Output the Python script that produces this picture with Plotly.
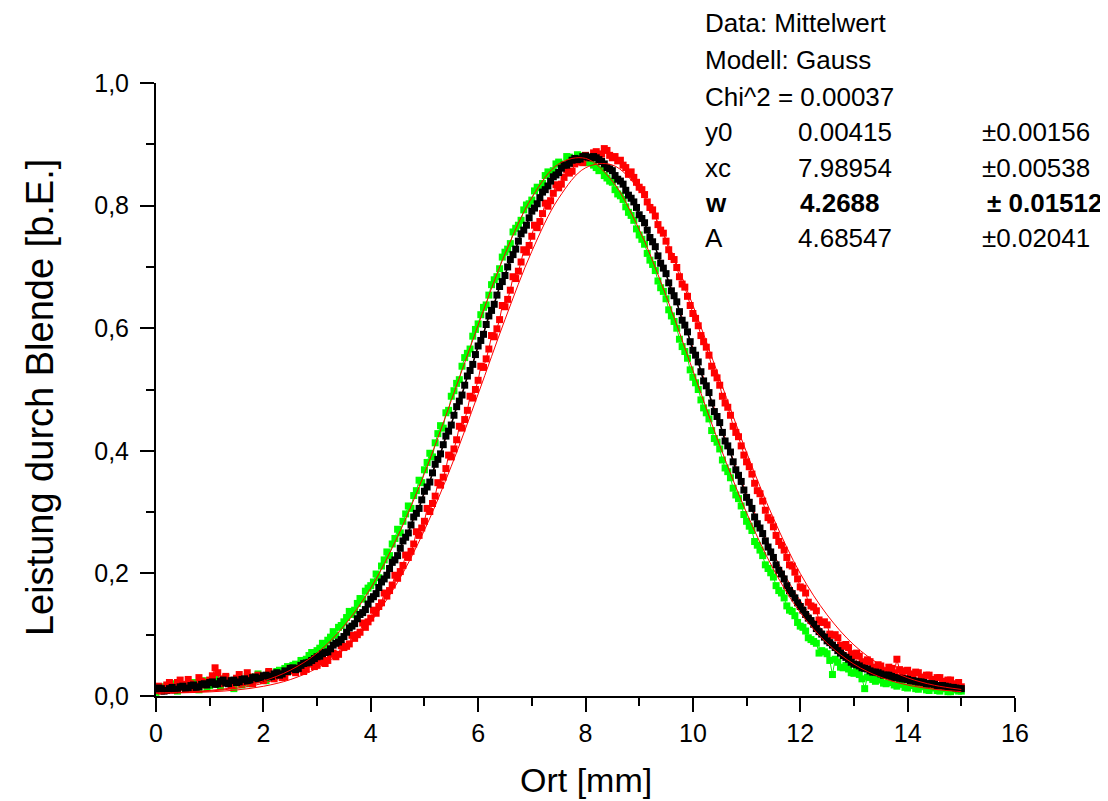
import plotly.graph_objects as go

# ---------------- data (every 0.05 mm) ----------------
x_pos = [
    0.00, 0.05, 0.10, 0.15, 0.20, 0.25, 0.30, 0.35, 0.40, 0.45, 0.50, 0.55, 0.60, 0.65, 0.70, 0.75, 0.80, 0.85, 0.90, 0.95,
    1.00, 1.05, 1.10, 1.15, 1.20, 1.25, 1.30, 1.35, 1.40, 1.45, 1.50, 1.55, 1.60, 1.65, 1.70, 1.75, 1.80, 1.85, 1.90, 1.95,
    2.00, 2.05, 2.10, 2.15, 2.20, 2.25, 2.30, 2.35, 2.40, 2.45, 2.50, 2.55, 2.60, 2.65, 2.70, 2.75, 2.80, 2.85, 2.90, 2.95,
    3.00, 3.05, 3.10, 3.15, 3.20, 3.25, 3.30, 3.35, 3.40, 3.45, 3.50, 3.55, 3.60, 3.65, 3.70, 3.75, 3.80, 3.85, 3.90, 3.95,
    4.00, 4.05, 4.10, 4.15, 4.20, 4.25, 4.30, 4.35, 4.40, 4.45, 4.50, 4.55, 4.60, 4.65, 4.70, 4.75, 4.80, 4.85, 4.90, 4.95,
    5.00, 5.05, 5.10, 5.15, 5.20, 5.25, 5.30, 5.35, 5.40, 5.45, 5.50, 5.55, 5.60, 5.65, 5.70, 5.75, 5.80, 5.85, 5.90, 5.95,
    6.00, 6.05, 6.10, 6.15, 6.20, 6.25, 6.30, 6.35, 6.40, 6.45, 6.50, 6.55, 6.60, 6.65, 6.70, 6.75, 6.80, 6.85, 6.90, 6.95,
    7.00, 7.05, 7.10, 7.15, 7.20, 7.25, 7.30, 7.35, 7.40, 7.45, 7.50, 7.55, 7.60, 7.65, 7.70, 7.75, 7.80, 7.85, 7.90, 7.95,
    8.00, 8.05, 8.10, 8.15, 8.20, 8.25, 8.30, 8.35, 8.40, 8.45, 8.50, 8.55, 8.60, 8.65, 8.70, 8.75, 8.80, 8.85, 8.90, 8.95,
    9.00, 9.05, 9.10, 9.15, 9.20, 9.25, 9.30, 9.35, 9.40, 9.45, 9.50, 9.55, 9.60, 9.65, 9.70, 9.75, 9.80, 9.85, 9.90, 9.95,
    10.00, 10.05, 10.10, 10.15, 10.20, 10.25, 10.30, 10.35, 10.40, 10.45, 10.50, 10.55, 10.60, 10.65, 10.70, 10.75, 10.80, 10.85, 10.90, 10.95,
    11.00, 11.05, 11.10, 11.15, 11.20, 11.25, 11.30, 11.35, 11.40, 11.45, 11.50, 11.55, 11.60, 11.65, 11.70, 11.75, 11.80, 11.85, 11.90, 11.95,
    12.00, 12.05, 12.10, 12.15, 12.20, 12.25, 12.30, 12.35, 12.40, 12.45, 12.50, 12.55, 12.60, 12.65, 12.70, 12.75, 12.80, 12.85, 12.90, 12.95,
    13.00, 13.05, 13.10, 13.15, 13.20, 13.25, 13.30, 13.35, 13.40, 13.45, 13.50, 13.55, 13.60, 13.65, 13.70, 13.75, 13.80, 13.85, 13.90, 13.95,
    14.00, 14.05, 14.10, 14.15, 14.20, 14.25, 14.30, 14.35, 14.40, 14.45, 14.50, 14.55, 14.60, 14.65, 14.70, 14.75, 14.80, 14.85, 14.90, 14.95,
    15.00]

green_vals = [
    .006, .010, .015, .009, .011, .017, .020, .013, .008, .014, .018, .011, .012, .021, .022, .016, .010, .019, .025, .013,
    .017, .022, .028, .019, .015, .024, .030, .021, .020, .012, .026, .023, .018, .027, .032, .020, .024, .031, .036, .027,
    .030, .025, .038, .034, .032, .040, .042, .036, .045, .048, .041, .050, .052, .047, .058, .056, .060, .066, .071, .068,
    .074, .078, .086, .080, .091, .096, .105, .099, .112, .115, .121, .128, .138, .133, .140, .151, .159, .158, .171, .176,
    .180, .186, .199, .193, .212, .222, .235, .229, .248, .257, .272, .266, .285, .297, .310, .306, .327, .335, .352, .348,
    .369, .381, .396, .390, .413, .428, .441, .437, .462, .466, .489, .498, .510, .516, .538, .552, .559, .566, .587, .598,
    .607, .622, .634, .638, .654, .671, .679, .684, .697, .716, .724, .729, .738, .757, .763, .768, .776, .793, .801, .803,
    .809, .824, .830, .829, .836, .849, .855, .852, .857, .868, .871, .866, .868, .880, .879, .872, .874, .883, .881, .875,
    .872, .870, .875, .866, .862, .857, .858, .849, .845, .840, .838, .826, .819, .816, .810, .798, .789, .784, .776, .762,
    .752, .745, .737, .722, .711, .704, .694, .677, .666, .660, .648, .630, .620, .611, .600, .582, .570, .562, .551, .532,
    .520, .511, .500, .483, .470, .462, .452, .433, .420, .414, .403, .385, .372, .366, .356, .339, .328, .322, .310, .296,
    .285, .277, .270, .252, .246, .238, .229, .214, .208, .201, .194, .180, .172, .168, .160, .147, .140, .138, .131, .120,
    .114, .112, .106, .095, .092, .089, .086, .070, .074, .072, .069, .058, .035, .060, .055, .047, .046, .050, .044, .038,
    .037, .040, .035, .028, .012, .031, .030, .027, .024, .030, .026, .021, .020, .024, .022, .018, .016, .021, .019, .014,
    .013, .018, .017, .012, .011, .016, .015, .010, .009, .014, .013, .009, .008, .012, .012, .007, .007, .011, .010, .008,
    .008]

red_vals = [
    .012, .016, .008, .013, .018, .022, .010, .015, .022, .026, .014, .019, .027, .020, .012, .017, .030, .024, .018, .022,
    .026, .033, .046, .038, .020, .028, .032, .025, .017, .022, .029, .035, .022, .027, .038, .031, .020, .026, .034, .029,
    .025, .032, .040, .035, .028, .034, .036, .030, .031, .039, .045, .041, .038, .044, .049, .040, .044, .052, .055, .048,
    .050, .056, .062, .053, .058, .068, .070, .064, .068, .082, .079, .081, .085, .099, .094, .100, .104, .119, .112, .121,
    .127, .140, .135, .146, .152, .168, .163, .172, .181, .197, .192, .203, .213, .230, .226, .236, .248, .268, .262, .274,
    .285, .306, .301, .314, .326, .348, .344, .357, .371, .393, .390, .403, .418, .440, .437, .451, .466, .489, .486, .500,
    .515, .538, .536, .550, .566, .588, .586, .599, .614, .637, .635, .647, .662, .684, .681, .693, .708, .728, .724, .735,
    .750, .768, .764, .774, .787, .804, .799, .808, .820, .834, .829, .835, .846, .858, .853, .856, .868, .875, .871, .870,
    .882, .878, .879, .886, .888, .884, .884, .893, .890, .882, .878, .880, .873, .874, .866, .862, .851, .855, .846, .838,
    .830, .826, .818, .806, .797, .793, .783, .769, .760, .755, .742, .728, .717, .712, .699, .684, .672, .667, .652, .637,
    .624, .616, .604, .588, .578, .569, .556, .538, .527, .519, .507, .489, .478, .471, .458, .440, .430, .423, .408, .393,
    .382, .374, .362, .347, .335, .330, .318, .303, .291, .287, .276, .262, .252, .246, .238, .226, .214, .212, .202, .191,
    .178, .176, .168, .153, .147, .145, .139, .124, .120, .121, .116, .101, .099, .100, .095, .083, .081, .084, .079, .069,
    .066, .070, .065, .056, .054, .059, .056, .047, .046, .051, .049, .041, .040, .047, .045, .038, .060, .043, .037, .041,
    .042, .036, .033, .039, .038, .031, .028, .034, .034, .027, .024, .030, .030, .024, .021, .026, .026, .020, .017, .022,
    .015]

black_vals = [
    .010, .013, .012, .008, .009, .012, .014, .010, .011, .015, .016, .012, .013, .017, .018, .014, .015, .019, .020, .018,
    .022, .023, .019, .020, .024, .026, .021, .020, .025, .026, .022, .023, .027, .028, .024, .025, .030, .031, .028, .029,
    .033, .034, .031, .032, .036, .038, .034, .036, .041, .040, .045, .046, .043, .045, .050, .053, .054, .055, .058, .061,
    .064, .065, .069, .071, .072, .077, .083, .086, .088, .092, .097, .104, .111, .114, .118, .126, .133, .136, .141, .150,
    .158, .162, .167, .177, .186, .191, .197, .208, .218, .222, .229, .241, .253, .259, .266, .279, .292, .298, .306, .320,
    .334, .341, .349, .364, .378, .386, .395, .410, .424, .432, .442, .458, .472, .481, .491, .507, .522, .531, .541, .557,
    .571, .580, .590, .606, .620, .629, .639, .654, .668, .676, .686, .700, .712, .720, .729, .742, .754, .760, .768, .780,
    .791, .796, .803, .813, .822, .826, .832, .840, .847, .850, .854, .861, .866, .866, .869, .874, .877, .875, .876, .880,
    .881, .879, .878, .880, .878, .875, .872, .868, .862, .860, .857, .849, .843, .840, .835, .825, .817, .812, .806, .797,
    .785, .779, .772, .760, .748, .741, .733, .718, .706, .698, .689, .674, .661, .653, .643, .627, .613, .605, .594, .578,
    .564, .556, .545, .529, .514, .506, .495, .478, .464, .456, .446, .430, .416, .408, .398, .382, .369, .360, .350, .336,
    .324, .316, .306, .292, .281, .274, .265, .253, .243, .235, .226, .214, .205, .199, .191, .180, .172, .167, .160, .152,
    .146, .140, .133, .127, .123, .117, .110, .105, .101, .096, .090, .087, .083, .079, .074, .070, .066, .063, .060, .055,
    .052, .051, .049, .046, .045, .044, .041, .039, .039, .038, .036, .034, .034, .034, .032, .030, .030, .029, .028, .028,
    .027, .025, .025, .024, .023, .023, .022, .020, .020, .020, .019, .017, .017, .017, .016, .015, .014, .014, .013, .012,
    .012]

fit_x = [0.0, 0.5, 1.0, 1.5, 2.0, 2.5, 3.0, 3.5, 4.0, 4.5,
         5.0, 5.5, 6.0, 6.5, 7.0, 7.5, 8.0, 8.5, 9.0, 9.5,
         10.0, 10.5, 11.0, 11.5, 12.0, 12.5, 13.0, 13.5, 14.0, 14.5, 15.0]
fit_black = [.0048, .0058, .0081, .0125, .0209, .0357, .0604, .0990, .1554, .2324,
             .3302, .4450, .5685, .6880, .7885, .8558, .8795, .8558, .7885, .6880,
             .5685, .4450, .3302, .2324, .1554, .0990, .0604, .0357, .0209, .0125, .0081]
fit_green = [.0050, .0063, .0091, .0145, .0245, .0420, .0700, .1140, .1760, .2600,
             .3630, .4820, .6050, .7210, .8130, .8680, .8770, .8400, .7610, .6530,
             .5310, .4090, .2990, .2070, .1360, .0860, .0520, .0305, .0179, .0109, .0072]
fit_red = [.0045, .0052, .0067, .0098, .0158, .0267, .0455, .0756, .1211, .1855,
           .2706, .3748, .4926, .6140, .7253, .8120, .8616, .8663, .8253, .7450,
           .6375, .5170, .3975, .2900, .1999, .1324, .0833, .0504, .0297, .0175, .0107]

x_ticks = [0, 2, 4, 6, 8, 10, 12, 14, 16]
y_ticks = [0.0, 0.2, 0.4, 0.6, 0.8, 1.0]

info_head = ["Data: Mittelwert", "Modell: Gauss", "Chi^2 = 0.00037"]
info_labels = ["y0", "xc", "w", "A"]
info_values = ["0.00415", "7.98954", "4.2688", "4.68547"]
info_errors = ["\u00b10.00156", "\u00b10.00538", "\u00b1 0.01512", "\u00b10.02041"]

# ---------------- figure ----------------
FONT = "Liberation Sans, Arial, sans-serif"
fig = go.Figure()


def add_data(vals, col, lw):
    fig.add_trace(go.Scatter(
        x=x_pos, y=vals, mode="lines+markers",
        line=dict(color=col, width=lw),
        marker=dict(symbol="square", size=7, color=col, line=dict(width=0)),
        showlegend=False, hoverinfo="skip"))


def add_fit(fv):
    fig.add_trace(go.Scatter(
        x=fit_x, y=fv, mode="lines",
        line=dict(color="#FF0000", width=1, shape="spline", smoothing=1.0),
        showlegend=False, hoverinfo="skip"))


add_data(green_vals, "#00FF00", 1)
add_data(red_vals, "#FF0000", 1)
add_fit(fit_black)
add_data(black_vals, "#000000", 1.5)
add_fit(fit_green)
add_fit(fit_red)

# page body has an 8px margin: figure is 1100x793 placed at (8, 8)
fig.update_layout(
    width=1100, height=793,
    margin=dict(l=148, r=93, t=75, b=105),
    paper_bgcolor="white", plot_bgcolor="white",
    separators=",.",
    font=dict(family=FONT, color="black"),
    showlegend=False,
)

fig.update_xaxes(
    range=[0, 16], tickvals=x_ticks, ticktext=[str(v) for v in x_ticks],
    showline=True, linecolor="black", linewidth=2, mirror=False,
    showgrid=False, zeroline=False,
    ticks="outside", ticklen=14, tickwidth=2, tickcolor="black",
    tickfont=dict(size=25, family=FONT, color="black"),
    minor=dict(dtick=1, ticks="outside", ticklen=8, tickwidth=2, tickcolor="black", showgrid=False),
)
fig.update_yaxes(
    range=[0, 1.0], tickvals=y_ticks, tickformat=".1f",
    showline=True, linecolor="black", linewidth=2, mirror=False,
    showgrid=False, zeroline=False,
    ticks="outside", ticklen=14, tickwidth=2, tickcolor="black",
    ticklabelstandoff=6,
    tickfont=dict(size=25, family=FONT, color="black"),
    minor=dict(dtick=0.1, ticks="outside", ticklen=8, tickwidth=2, tickcolor="black", showgrid=False),
)

# axis titles
fig.add_annotation(text="Ort [mm]", xref="paper", yref="paper", x=0.5, y=-0.137,
                   xanchor="center", yanchor="middle", showarrow=False,
                   font=dict(size=34, family=FONT, color="black"))
fig.add_annotation(text="Leistung durch Blende [b.E.]", xref="paper", yref="paper",
                   x=-0.135, y=0.486, textangle=-90,
                   xanchor="center", yanchor="middle", showarrow=False,
                   font=dict(size=38, family=FONT, color="black"))


def px_to_paper_x(px):
    return (px - 156) / 859.0


def px_to_paper_y(py):
    return (696 - py) / 613.0


row_y = [23, 60, 97, 132, 168, 203, 238]
for i, t in enumerate(info_head):
    fig.add_annotation(text=t, xref="paper", yref="paper",
                       x=px_to_paper_x(703), y=px_to_paper_y(row_y[i]),
                       xanchor="left", yanchor="middle", showarrow=False,
                       font=dict(size=26, family=FONT, color="black"))
for j, (lab, val, err) in enumerate(zip(info_labels, info_values, info_errors)):
    bold = lab == "w"
    yy = px_to_paper_y(row_y[3 + j])
    wrap = (lambda s: "<b>" + s + "</b>") if bold else (lambda s: s)
    fig.add_annotation(text=wrap(lab), xref="paper", yref="paper",
                       x=px_to_paper_x(703), y=yy, xanchor="left", yanchor="middle",
                       showarrow=False, font=dict(size=26, family=FONT, color="black"))
    fig.add_annotation(text=wrap(val), xref="paper", yref="paper",
                       x=px_to_paper_x(798 if bold else 796), y=yy, xanchor="left", yanchor="middle",
                       showarrow=False, font=dict(size=26, family=FONT, color="black"))
    fig.add_annotation(text=wrap(err), xref="paper", yref="paper",
                       x=px_to_paper_x(985 if bold else 980), y=yy, xanchor="left", yanchor="middle",
                       showarrow=False, font=dict(size=26, family=FONT, color="black"))

fig.write_html("out.html")
